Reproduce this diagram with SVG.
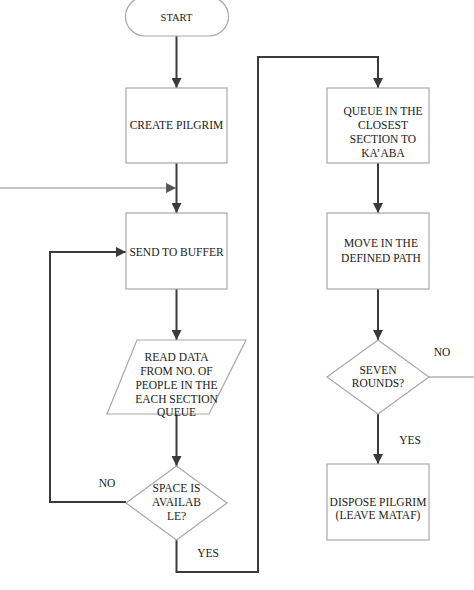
<svg xmlns="http://www.w3.org/2000/svg" width="474" height="590" viewBox="0 0 474 590" font-family="Liberation Serif, serif">
<defs>
<marker id="ah" viewBox="0 0 10 10" refX="10" refY="5" markerWidth="5.5" markerHeight="5" orient="auto" markerUnits="strokeWidth">
<path d="M0,0 L10,5 L0,10 z" fill="#3a3a3a"/>
</marker>
<marker id="ahl" viewBox="0 0 10 10" refX="10" refY="5" markerWidth="9" markerHeight="9" orient="auto" markerUnits="strokeWidth">
<path d="M0,0 L10,5 L0,10 z" fill="#555"/>
</marker>
</defs>
<style>
.n{fill:#fff;stroke:#a8a8a8;stroke-width:1.2}
.t{font-size:11.5px;fill:#1a1a1a;text-anchor:middle;dominant-baseline:central}
.c{fill:none;stroke:#3a3a3a;stroke-width:2}
.l{fill:none;stroke:#8a8a8a;stroke-width:1.1}
</style>
<rect width="474" height="590" fill="#fff"/>
<g id="connectors" font-family="Liberation Serif, serif">
<path class="c" d="M176.5,36 V88" marker-end="url(#ah)"/>
<path class="c" d="M176.5,163 V213" marker-end="url(#ah)"/>
<path class="l" d="M0,188 H176" marker-end="url(#ahl)"/>
<path class="c" d="M176.5,289 V340" marker-end="url(#ah)"/>
<path class="c" d="M176.5,414 V466" marker-end="url(#ah)"/>
<path class="c" d="M126,502 H50 V252 H126" marker-end="url(#ah)"/>
<path class="c" d="M176.5,540 V572 H258 V57 H378 V88" marker-end="url(#ah)"/>
<path class="c" d="M378,163 V213" marker-end="url(#ah)"/>
<path class="c" d="M378,289 V340" marker-end="url(#ah)"/>
<path class="l" d="M429,377 H474"/>
<path class="c" d="M378,414 V464" marker-end="url(#ah)"/>
<text class="t" x="107" y="483">NO</text>
<text class="t" x="208" y="553">YES</text>
<text class="t" x="442" y="352">NO</text>
<text class="t" x="410" y="440">YES</text>
</g>
<g id="start" font-family="Liberation Serif, serif">
<rect class="n" x="125.5" y="-3" width="103" height="39" rx="19.5"/>
<text class="t" x="176.5" y="17" style="font-size:10.5px">START</text>
</g>
<g id="create" font-family="Liberation Serif, serif">
<rect class="n" x="126" y="88" width="101" height="75"/>
<text class="t" x="176.5" y="125">CREATE PILGRIM</text>
</g>
<g id="buffer" font-family="Liberation Serif, serif">
<rect class="n" x="126" y="213" width="101" height="76"/>
<text class="t" x="176.5" y="252">SEND TO BUFFER</text>
</g>
<g id="read" font-family="Liberation Serif, serif">
<polygon class="n" points="137,340 246,340 209,414 107,414"/>
<text class="t" x="176.5" y="357">READ DATA</text>
<text class="t" x="176.5" y="371">FROM NO. OF</text>
<text class="t" x="176.5" y="385">PEOPLE IN THE</text>
<text class="t" x="176.5" y="399">EACH SECTION</text>
<text class="t" x="176.5" y="412">QUEUE</text>
</g>
<g id="space" font-family="Liberation Serif, serif">
<polygon class="n" points="176.5,466 227,503 176.5,540 126,503"/>
<text class="t" x="176.5" y="488">SPACE IS</text>
<text class="t" x="176.5" y="502">AVAILAB</text>
<text class="t" x="176.5" y="516">LE?</text>
</g>
<g id="queue" font-family="Liberation Serif, serif">
<rect class="n" x="327" y="88" width="102" height="75"/>
<text class="t" x="383" y="111">QUEUE IN THE</text>
<text class="t" x="383" y="125">CLOSEST</text>
<text class="t" x="383" y="139">SECTION TO</text>
<text class="t" x="383" y="153">KA’ABA</text>
</g>
<g id="move" font-family="Liberation Serif, serif">
<rect class="n" x="327" y="213" width="102" height="76"/>
<text class="t" x="381" y="243">MOVE IN THE</text>
<text class="t" x="381" y="258">DEFINED PATH</text>
</g>
<g id="seven" font-family="Liberation Serif, serif">
<polygon class="n" points="378,340 429,377 378,414 327,377"/>
<text class="t" x="378" y="370">SEVEN</text>
<text class="t" x="378" y="383">ROUNDS?</text>
</g>
<g id="dispose" font-family="Liberation Serif, serif">
<rect class="n" x="327" y="464" width="102" height="76"/>
<text class="t" x="378" y="502">DISPOSE PILGRIM</text>
<text class="t" x="378" y="515">(LEAVE MATAF)</text>
</g>
</svg>
